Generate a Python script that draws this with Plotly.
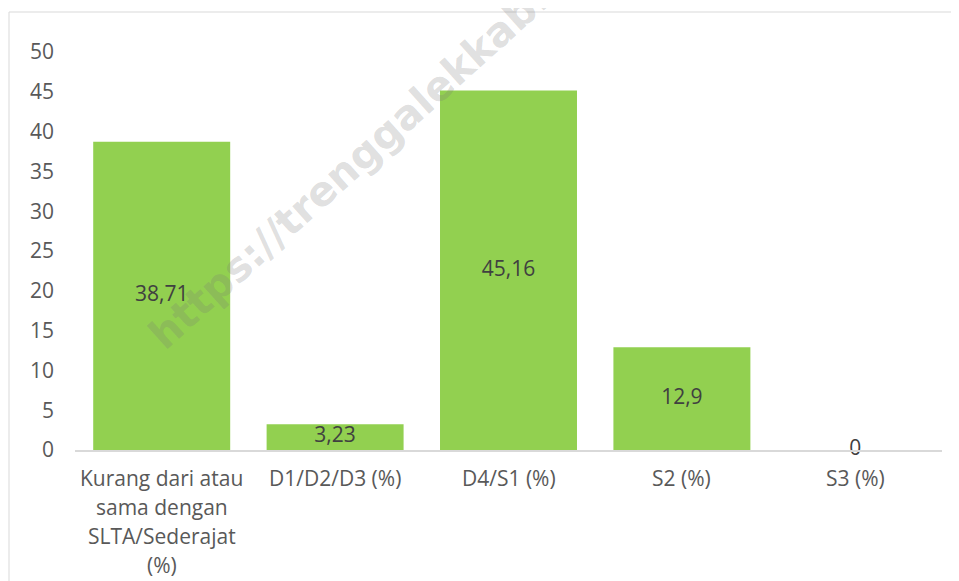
import plotly.graph_objects as go

categories = ["Kurang dari atau<br>sama dengan<br>SLTA/Sederajat<br>(%)", "D1/D2/D3 (%)", "D4/S1 (%)", "S2 (%)", "S3 (%)"]
values = [38.71, 3.23, 45.16, 12.9, 0]
value_labels = ["38,71", "3,23", "45,16", "12,9", "0"]
y_ticks = [0, 5, 10, 15, 20, 25, 30, 35, 40, 45, 50]

OFF = 8  # page body margin
W, H = 959 - OFF, 581 - OFF
ML, MR, MT, MB = 75 - OFF, 17, 52 - OFF, 131
pw, ph = W - ML - MR, H - MT - MB
FONT = "Open Sans"
FS = 21

def px(x):  # page x -> paper
    return (x - OFF - ML) / pw

def py(y):  # page y -> paper
    return (H - MB - (y - OFF)) / ph

fig = go.Figure()
fig.add_trace(go.Bar(
    x=categories, y=values, marker=dict(color="#92D050", line=dict(width=0)),
    hoverinfo="skip", showlegend=False,
))
fig.add_trace(go.Scatter(
    x=categories, y=[v / 2 for v in values], mode="text", text=value_labels,
    textfont=dict(family=FONT, size=FS, color="#404040"),
    hoverinfo="skip", showlegend=False, cliponaxis=False,
))

annotations = []
# category labels (one annotation per line for Excel-like line spacing)
for cat in categories:
    for j, line in enumerate(cat.split("<br>")):
        annotations.append(dict(
            text=line, xref="x", yref="paper", x=cat, y=py(478 + 29 * j),
            xanchor="center", yanchor="middle", showarrow=False,
            font=dict(family=FONT, size=FS, color="#595959")))

# watermark
annotations.append(dict(
    text="<b>https://trenggalekkab.go.id</b>", xref="paper", yref="paper",
    x=px(392), y=py(128), xanchor="center", yanchor="middle",
    showarrow=False, textangle=-42,
    font=dict(family="DejaVu Sans", size=41, color="rgba(120,120,120,0.24)")))

fig.update_layout(
    width=W, height=H, margin=dict(l=ML, r=MR, t=MT, b=MB),
    paper_bgcolor="white", plot_bgcolor="white", bargap=0.21,
    font=dict(family=FONT, size=FS, color="#595959"),
    xaxis=dict(showgrid=False, showline=True, linecolor="#D9D9D9", linewidth=2,
               ticks="", showticklabels=False, fixedrange=True),
    yaxis=dict(range=[0, 50], tickvals=y_ticks, showgrid=False, zeroline=False,
               showline=False, ticks="", ticklabelstandoff=20,
               tickfont=dict(family=FONT, size=FS, color="#595959")),
    shapes=[dict(type="rect", xref="paper", yref="paper",
                 x0=px(9), x1=px(975), y0=py(600), y1=py(12),
                 line=dict(color="#D9D9D9", width=1), fillcolor="rgba(0,0,0,0)", layer="below")],
    annotations=annotations,
)

fig.write_html("out.html")
